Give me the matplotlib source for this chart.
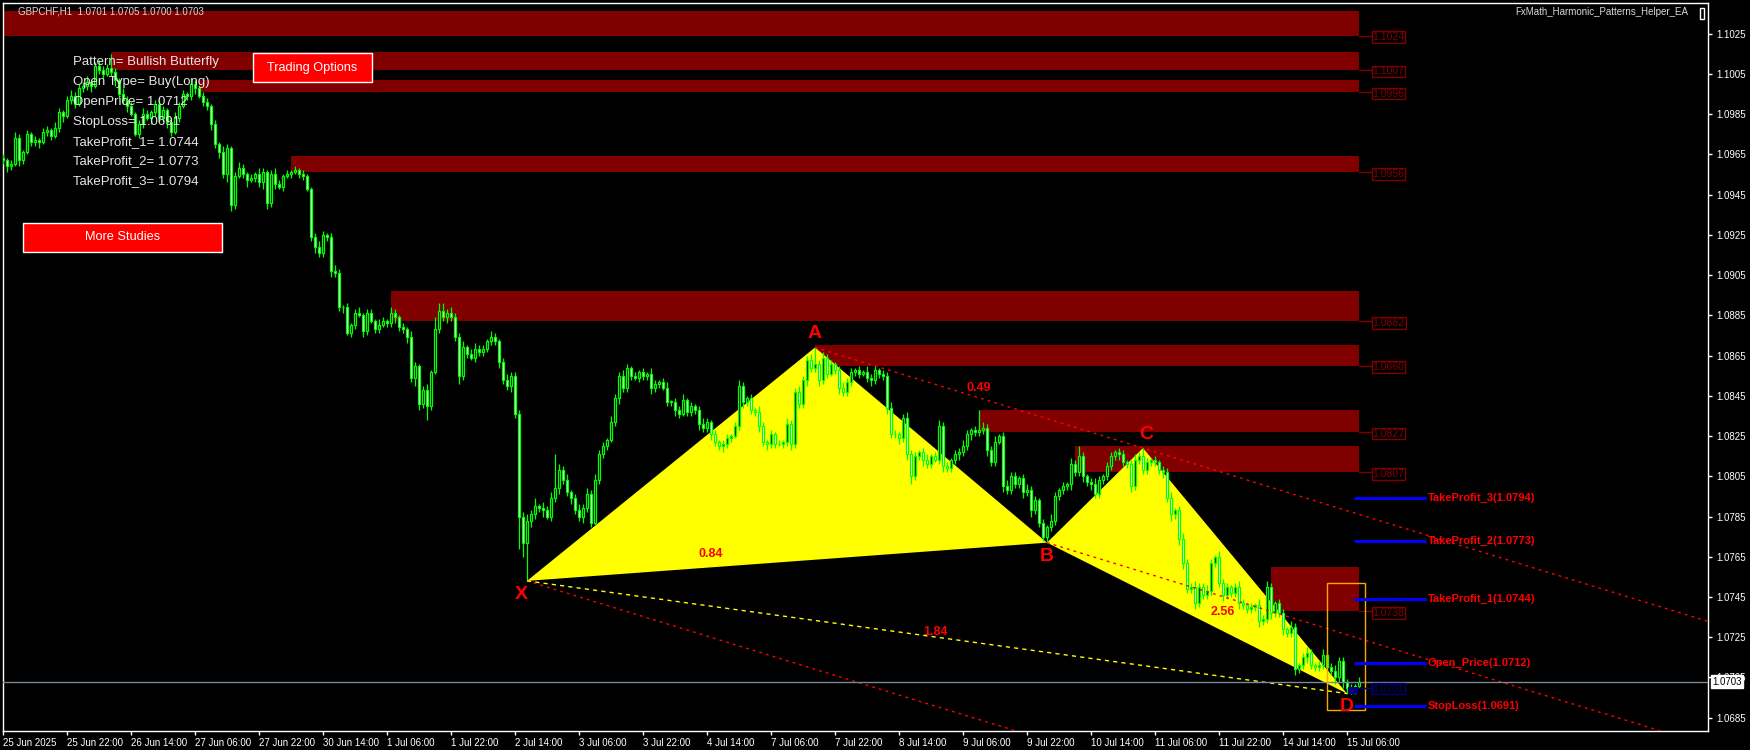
import numpy as np
import matplotlib.pyplot as plt
from matplotlib.patches import Rectangle, Polygon

plt.rcParams['font.family'] = ['Liberation Sans', 'DejaVu Sans']

# GBPCHF H1 closes, pips above 1.0000 (bar 0 = 25 Jun 06:00, weekends skipped)
first_open = 963
closes = [
    962, 959, 960, 973, 962, 966, 975, 971, 972, 971, 976, 977, 974, 978, 986, 984, 992, 994, 990, 998,
    999, 1001, 999, 1009, 1007, 1005, 1008, 1006, 1002, 995, 992, 989, 985, 975, 980, 985, 983, 986, 990, 983,
    987, 981, 976, 983, 989, 995, 994, 1000, 998, 994, 991, 989, 980, 970, 966, 955, 968, 940, 954, 958,
    955, 952, 953, 955, 951, 956, 941, 955, 950, 949, 954, 955, 956, 957, 955, 954, 948, 924, 919, 916,
    925, 924, 907, 906, 889, 889, 876, 880, 886, 885, 877, 886, 882, 878, 880, 882, 881, 886, 884, 879,
    878, 874, 854, 860, 841, 848, 840, 857, 878, 887, 884, 886, 884, 874, 855, 869, 866, 864, 868, 867,
    868, 872, 874, 872, 862, 853, 850, 855, 836, 785, 772, 783, 786, 790, 789, 788, 785, 794, 799, 808,
    803, 797, 794, 788, 785, 789, 796, 782, 803, 816, 820, 823, 832, 844, 855, 849, 859, 855, 854, 857,
    855, 856, 849, 851, 852, 849, 842, 842, 838, 836, 843, 837, 840, 838, 831, 829, 832, 826, 822, 820,
    821, 824, 825, 830, 850, 842, 844, 838, 837, 830, 822, 821, 826, 821, 821, 822, 831, 821, 847, 841,
    853, 863, 859, 861, 853, 864, 856, 861, 858, 849, 847, 852, 857, 858, 856, 857, 854, 853, 858, 856,
    855, 839, 826, 826, 824, 834, 816, 805, 815, 817, 813, 811, 815, 813, 830, 810, 809, 813, 816, 817,
    820, 826, 828, 827, 828, 829, 818, 812, 822, 825, 800, 798, 805, 801, 804, 797, 798, 788, 793, 782,
    775, 780, 783, 795, 798, 800, 801, 811, 807, 815, 805, 802, 801, 796, 803, 805, 810, 815, 817, 816,
    812, 811, 800, 813, 815, 808, 812, 813, 812, 808, 807, 794, 786, 788, 774, 762, 749, 750, 742, 750,
    746, 748, 762, 765, 752, 746, 750, 747, 750, 742, 741, 739, 740, 741, 733, 734, 750, 737, 742, 737,
    729, 727, 730, 709, 711, 715, 717, 711, 710, 711, 716, 710, 708, 705, 713, 703, 700, 699, 701, 703,
]
# upper / lower shadow lengths in pips
wick_up = [
    2, 1, 2, 3, 2, 1, 2, 1, 2, 1, 2, 2, 1, 3, 2, 1, 2, 3, 2, 2,
    2, 3, 1, 2, 3, 2, 2, 7, 2, 1, 3, 2, 2, 1, 2, 3, 2, 1, 2, 3,
    2, 1, 2, 3, 2, 2, 1, 3, 2, 1, 2, 2, 1, 2, 1, 3, 2, 1, 2, 3,
    2, 1, 2, 1, 3, 2, 1, 2, 3, 2, 1, 2, 1, 2, 1, 2, 1, 1, 2, 3,
    2, 1, 2, 3, 2, 1, 2, 1, 2, 3, 1, 2, 2, 1, 3, 2, 1, 3, 2, 1,
    2, 1, 3, 2, 1, 2, 3, 1, 6, 4, 4, 2, 3, 2, 2, 3, 1, 2, 3, 2,
    2, 1, 3, 2, 1, 2, 3, 2, 2, 2, 2, 3, 2, 4, 1, 3, 2, 3, 17, 3,
    2, 3, 1, 2, 3, 2, 3, 2, 3, 2, 2, 1, 3, 2, 2, 3, 2, 1, 2, 1,
    2, 1, 3, 2, 1, 2, 3, 1, 2, 2, 3, 1, 2, 1, 2, 3, 2, 1, 2, 1,
    2, 2, 1, 2, 3, 2, 1, 2, 1, 3, 2, 1, 2, 1, 2, 1, 3, 2, 2, 3,
    2, 2, 3, 8, 2, 3, 2, 2, 1, 2, 3, 2, 2, 1, 2, 1, 3, 2, 2, 1,
    2, 2, 3, 2, 1, 2, 3, 2, 2, 1, 2, 3, 1, 2, 3, 2, 2, 1, 2, 2,
    3, 2, 1, 2, 10, 3, 2, 2, 3, 1, 2, 3, 2, 2, 1, 2, 3, 2, 2, 1,
    2, 1, 3, 2, 1, 2, 1, 3, 2, 5, 2, 1, 2, 3, 2, 1, 2, 2, 1, 2,
    2, 1, 2, 3, 2, 4, 2, 1, 2, 1, 2, 2, 3, 1, 2, 3, 2, 2, 3, 2,
    2, 3, 2, 1, 3, 2, 2, 1, 2, 3, 2, 1, 2, 1, 3, 2, 3, 2, 1, 2,
    2, 1, 3, 2, 1, 2, 3, 2, 1, 2, 3, 1, 2, 3, 2, 2, 1, 2, 1, 2,
]
wick_dn = [
    2, 3, 2, 1, 3, 2, 1, 2, 2, 3, 1, 2, 2, 1, 2, 3, 1, 2, 2, 1,
    2, 2, 3, 1, 2, 2, 1, 2, 3, 2, 2, 3, 1, 1, 2, 2, 1, 3, 2, 2,
    2, 3, 2, 1, 2, 1, 2, 2, 3, 1, 2, 2, 3, 2, 3, 2, 4, 3, 2, 1,
    2, 3, 1, 2, 2, 3, 3, 2, 2, 1, 2, 1, 2, 1, 2, 2, 1, 2, 3, 2,
    2, 2, 3, 2, 2, 3, 1, 2, 2, 1, 3, 2, 1, 2, 2, 1, 2, 2, 3, 2,
    2, 3, 2, 4, 3, 2, 7, 2, 1, 2, 2, 3, 2, 2, 4, 2, 2, 1, 2, 2,
    2, 1, 2, 2, 3, 2, 2, 3, 2, 16, 7, 19, 3, 2, 2, 3, 1, 2, 2, 3,
    2, 2, 3, 2, 2, 3, 2, 2, 1, 2, 2, 2, 1, 2, 3, 2, 2, 2, 1, 2,
    2, 2, 3, 2, 2, 1, 2, 2, 3, 2, 1, 2, 2, 2, 3, 2, 2, 3, 2, 2,
    3, 2, 2, 1, 2, 3, 2, 2, 2, 3, 2, 3, 2, 2, 1, 2, 2, 3, 2, 2,
    2, 3, 2, 2, 3, 2, 2, 1, 2, 3, 2, 2, 2, 2, 2, 1, 2, 3, 2, 2,
    2, 3, 2, 2, 3, 2, 3, 4, 2, 2, 3, 2, 2, 1, 2, 3, 2, 2, 2, 3,
    2, 2, 3, 2, 2, 2, 3, 2, 2, 1, 3, 2, 2, 2, 2, 3, 2, 3, 2, 2,
    2, 3, 2, 2, 2, 2, 2, 3, 2, 2, 3, 2, 3, 2, 2, 2, 2, 2, 2, 3,
    2, 2, 3, 2, 2, 2, 2, 2, 2, 2, 3, 2, 3, 2, 3, 3, 2, 2, 3, 2,
    2, 2, 2, 2, 2, 3, 2, 2, 2, 3, 2, 2, 2, 2, 3, 2, 2, 3, 2, 2,
    3, 2, 2, 3, 2, 2, 3, 2, 2, 2, 2, 2, 2, 3, 2, 3, 3, 2, 2, 1,
]

time_labels = ['25 Jun 2025', '25 Jun 22:00', '26 Jun 14:00', '27 Jun 06:00', '27 Jun 22:00',
               '30 Jun 14:00', '1 Jul 06:00', '1 Jul 22:00', '2 Jul 14:00', '3 Jul 06:00',
               '3 Jul 22:00', '4 Jul 14:00', '7 Jul 06:00', '7 Jul 22:00', '8 Jul 14:00',
               '9 Jul 06:00', '9 Jul 22:00', '10 Jul 14:00', '11 Jul 06:00', '11 Jul 22:00',
               '14 Jul 14:00', '15 Jul 06:00']

# harmonic pattern points: bar index and price
pt_names = ['X', 'A', 'B', 'C', 'D']
pt_bars = [131, 203, 261, 285, 336]
pt_prices = [1.0753, 1.0869, 1.0772, 1.0819, 1.0697]

# supply zones
zone_lo = [1.1024, 1.1007, 1.0996, 1.0956, 1.0882, 1.0860, 1.0827, 1.0807, 1.0738]
zone_hi = [1.1036, 1.1016, 1.1002, 1.0964, 1.0897, 1.0870, 1.0838, 1.0820, 1.0760]
zone_from = [0, 27, 49, 72, 97, 203, 244, 268, 317]

level_names = ['TakeProfit_3', 'TakeProfit_2', 'TakeProfit_1', 'Open_Price', 'StopLoss']
level_prices = [1.0794, 1.0773, 1.0744, 1.0712, 1.0691]

ratio_texts = ['0.84', '0.49', '2.56', '1.84']
ratio_bars = [177, 244, 305, 233]
ratio_prices = [1.07663, 1.08488, 1.07375, 1.07276]

panel_lines = ['Pattern= Bullish Butterfly', 'Open Type= Buy(Long)', 'OpenPrice= 1.0712',
               'StopLoss= 1.0691', 'TakeProfit_1= 1.0744', 'TakeProfit_2= 1.0773',
               'TakeProfit_3= 1.0794']

last_price = 1.0703
marker_price = 1.0701

W, H = 1750, 750
fig = plt.figure(figsize=(W / 100, H / 100), dpi=100, facecolor='black')
ax = fig.add_axes([3 / W, 19 / H, 1705 / W, 728 / H], facecolor='black')
ax.set_xlim(0, 426.25)
ax.set_ylim(1.06784, 1.10402)


def fpos(x, y):
    return x / W, 1 - y / H


# candles
c = 1 + np.array(closes) / 10000
o = np.r_[1 + first_open / 10000, c[:-1]]
hi = np.maximum(o, c) + np.array(wick_up) / 10000
lo = np.minimum(o, c) - np.array(wick_dn) / 10000
x = np.arange(len(c))
body = np.maximum(np.abs(c - o), 0.00002)
fills = np.where(c >= o, 'black', 'white')
ax.vlines(x, lo, hi, color='#00FF00', lw=0.9, zorder=4)
ax.bar(x, body, bottom=np.minimum(o, c), width=0.45, color=fills,
       edgecolor='#00FF00', linewidth=0.9, zorder=5)

# zones
zone_end = 338.9
for zl, zh, zf in zip(zone_lo, zone_hi, zone_from):
    ax.add_patch(Rectangle((zf, zl), zone_end - zf, zh - zl, color='#800000', lw=0, zorder=1))
    ax.plot([zone_end, 341.9], [zl, zl], color='#800000', lw=1, zorder=6)
    ax.text(342.4, zl - 0.00008, f'{zl:.4f}', color='#800000', fontsize=7.5, ha='left', va='center',
            bbox=dict(facecolor='black', edgecolor='#800000', lw=1, pad=0.6), zorder=7)

# pattern triangles
P = list(zip(pt_bars, pt_prices))
ax.add_patch(Polygon([P[0], P[1], P[2]], closed=True, color='#FFFF00', lw=0, zorder=2))
ax.add_patch(Polygon([P[2], P[3], P[4]], closed=True, color='#FFFF00', lw=0, zorder=2))

# channel lines parallel to A-C
slope = (pt_prices[3] - pt_prices[1]) / (pt_bars[3] - pt_bars[1])
xr = 426.25
for i in (1, 2, 0):
    ax.plot([pt_bars[i], xr], [pt_prices[i], pt_prices[i] + slope * (xr - pt_bars[i])],
            color='#FF0000', lw=1, linestyle=(0, (2, 3)), zorder=6)
ax.plot([pt_bars[0], pt_bars[4]], [pt_prices[0], pt_prices[4]], color='#FFFF00', lw=1,
        linestyle=(0, (3, 3)), zorder=6)

# current price line
ax.axhline(last_price, color='#778899', lw=1, zorder=6)

# orange box around D
ax.add_patch(Rectangle((331, 1.06888), 9.5, 1.07519 - 1.06888, fill=False,
                       edgecolor='#FFA500', lw=1, zorder=7))
# small marker near D
ax.add_patch(Rectangle((336.3, 1.0697), 2.4, 0.00035, color='#000080', lw=0, zorder=7))
ax.plot([339, 341.9], [1.0700, 1.0700], color='#000080', lw=1, zorder=7)
ax.text(342.4, 1.06995, f'{marker_price:.4f}', color='#000080', fontsize=7.5, ha='left', va='center',
        bbox=dict(facecolor='black', edgecolor='#000080', lw=1, pad=0.6), zorder=7)

# trade levels
for name, p in zip(level_names, level_prices):
    ax.hlines(p, 337.75, 355.75, color='#0000FF', lw=2.2, zorder=7)
    ax.text(356.2, p, f'{name}({p:.4f})', color='#FF0000', fontsize=8, fontweight='bold',
            ha='left', va='center', zorder=8)

# point letters
offs = [(-4, -10), (0, 10), (0, -10), (2, 10), (0, -9)]
for name, bx, py, (dx, dy) in zip(pt_names, pt_bars, pt_prices, offs):
    ax.annotate(name, (bx, py), xytext=(dx, dy), textcoords='offset points', color='#FF0000',
                fontsize=14, fontweight='bold', ha='center', va='center', zorder=9)

for t, bx, py in zip(ratio_texts, ratio_bars, ratio_prices):
    ax.text(bx, py, t, color='#FF0000', fontsize=9, fontweight='bold', ha='center', va='center', zorder=9)

# axes styling
for s in ax.spines.values():
    s.set_color('white')
    s.set_linewidth(1)
ax.yaxis.tick_right()
yt = [1.0685 + 0.002 * k for k in range(18)]
ax.set_yticks(yt)
ax.set_yticklabels([f'{v:.4f}' for v in yt])
ax.set_xticks(range(0, 16 * len(time_labels), 16))
ax.set_xticklabels(time_labels, ha='left')
ax.tick_params(axis='both', colors='white', labelsize=7, length=3, width=1, direction='out')
ax.tick_params(axis='x', pad=2)
ax.tick_params(axis='y', pad=3)

ax.annotate(f'{last_price:.4f}', (1, last_price), xycoords=('axes fraction', 'data'),
            xytext=(3, 0), textcoords='offset points', ha='left', va='center', fontsize=7,
            color='black', bbox=dict(facecolor='white', edgecolor='white', pad=1.2), zorder=10,
            annotation_clip=False)

# header texts
fig.text(*fpos(18, 11), 'GBPCHF,H1  1.0701 1.0705 1.0700 1.0703', color='#D8D8D8', fontsize=7,
         ha='left', va='center')
fig.text(*fpos(1688, 12), 'FxMath_Harmonic_Patterns_Helper_EA', color='#D8D8D8', fontsize=7,
         ha='right', va='center')
fig.add_artist(Rectangle(fpos(1700, 19), 4 / W, 11 / H, fill=False, edgecolor='white', lw=1,
                         transform=fig.transFigure))

# info panel
for k, line in enumerate(panel_lines):
    fig.text(*fpos(73, 62 + 19.9 * k), line, color='#E6E6E6', fontsize=9.5, ha='left', va='center',
             zorder=20)

# buttons
for (x0, y0, x1, y1, label) in [(253, 53, 372, 82, 'Trading Options'), (23, 223, 222, 252, 'More Studies')]:
    fig.add_artist(Rectangle(fpos(x0, y1), (x1 - x0) / W, (y1 - y0) / H, facecolor='#FF0000',
                             edgecolor='white', lw=1, transform=fig.transFigure, zorder=20))
    fig.text(*fpos((x0 + x1) / 2, (y0 + y1) / 2), label, color='white', fontsize=9.2,
             ha='center', va='center', zorder=21)

fig.savefig('out.png', dpi=100, facecolor='black')
